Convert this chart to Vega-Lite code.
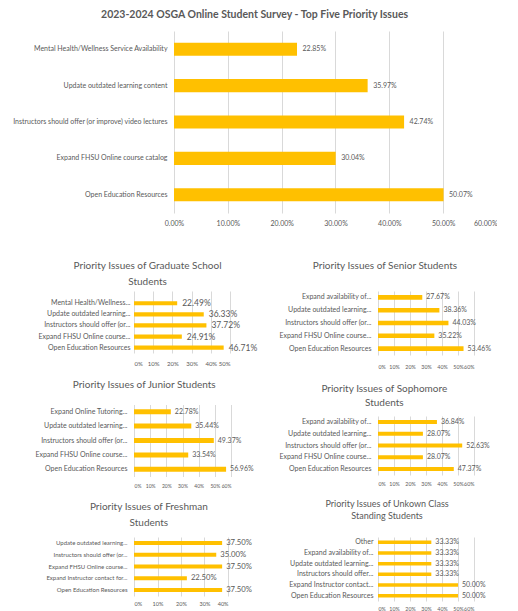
{
  "$schema": "https://vega.github.io/schema/vega-lite/v6.json",
  "padding": {"left": 12, "top": 9, "right": 0, "bottom": 0},
  "spacing": 34,
  "config": {
    "font": "Lato",
    "view": {"stroke": null},
    "axis": {"labelColor": "#595959", "labelFont": "Lato", "gridColor": "#D9D9D9", "domain": false, "ticks": false, "title": null, "labelOverlap": false},
    "axisY": {"grid": false},
    "title": {"color": "#595959", "font": "Lato", "fontWeight": "normal", "anchor": "middle", "frame": "bounds"},
    "bar": {"color": "#FFC000"},
    "text": {"color": "#595959", "font": "Lato"}
  },
  "datasets": {
    "main": [
      {"issue": "Mental Health/Wellness Service Availability", "pct": 0.2285},
      {"issue": "Update outdated learning content", "pct": 0.3597},
      {"issue": "Instructors should offer (or improve) video lectures", "pct": 0.4274},
      {"issue": "Expand FHSU Online course catalog", "pct": 0.3004},
      {"issue": "Open Education Resources", "pct": 0.5007}
    ],
    "grad": [
      {"issue": "Mental Health/Wellness...", "pct": 0.2249},
      {"issue": "Update outdated learning...", "pct": 0.3633},
      {"issue": "Instructors should offer (or...", "pct": 0.3772},
      {"issue": "Expand FHSU Online course...", "pct": 0.2491},
      {"issue": "Open Education Resources", "pct": 0.4671}
    ],
    "senior": [
      {"issue": "Expand availability of...", "pct": 0.2767},
      {"issue": "Update outdated learning...", "pct": 0.3836},
      {"issue": "Instructors should offer (or...", "pct": 0.4403},
      {"issue": "Expand FHSU Online course...", "pct": 0.3522},
      {"issue": "Open Education Resources", "pct": 0.5346}
    ],
    "junior": [
      {"issue": "Expand Online Tutoring...", "pct": 0.2278},
      {"issue": "Update outdated learning...", "pct": 0.3544},
      {"issue": "Instructors should offer (or...", "pct": 0.4937},
      {"issue": "Expand FHSU Online course...", "pct": 0.3354},
      {"issue": "Open Education Resources", "pct": 0.5696}
    ],
    "soph": [
      {"issue": "Expand availability of...", "pct": 0.3684},
      {"issue": "Update outdated learning...", "pct": 0.2807},
      {"issue": "Instructors should offer (or...", "pct": 0.5263},
      {"issue": "Expand FHSU Online course...", "pct": 0.2807},
      {"issue": "Open Education Resources", "pct": 0.4737}
    ],
    "fresh": [
      {"issue": "Update outdated learning...", "pct": 0.375},
      {"issue": "Instructors should offer (or...", "pct": 0.35},
      {"issue": "Expand FHSU Online course...", "pct": 0.375},
      {"issue": "Expand Instructor contact for...", "pct": 0.225},
      {"issue": "Open Education Resources", "pct": 0.375}
    ],
    "unknown": [
      {"issue": "Other", "pct": 0.3333},
      {"issue": "Expand availability of...", "pct": 0.3333},
      {"issue": "Update outdated learning...", "pct": 0.3333},
      {"issue": "Instructors should offer...", "pct": 0.3333},
      {"issue": "Expand Instructor contact...", "pct": 0.5},
      {"issue": "Open Education Resources", "pct": 0.5}
    ]
  },
  "vconcat": [
    {
      "title": {"text": "2023-2024 OSGA Online Student Survey - Top Five Priority Issues", "fontSize": 10.5, "fontWeight": "bold", "offset": 11},
      "data": {"name": "main"},
      "width": 363,
      "height": 182,
      "encoding": {
        "y": {"field": "issue", "type": "nominal", "sort": null, "scale": {"paddingInner": 0.64, "paddingOuter": 0.32}, "axis": {"labelFontSize": 7, "labelPadding": -33}},
        "x": {"field": "pct", "type": "quantitative", "scale": {"domain": [-0.0743, 0.6], "nice": false, "zero": false}, "axis": {"format": ".2%", "values": [0, 0.1, 0.2, 0.3, 0.4, 0.5, 0.6], "labelFontSize": 7, "labelPadding": 6.5}}
      },
      "layer": [
        {"mark": {"type": "bar"}, "encoding": {"x2": {"datum": 0}}},
        {"mark": {"type": "text", "align": "left", "dx": 5.5, "fontSize": 7}, "encoding": {"text": {"field": "pct", "format": ".2%"}}}
      ]
    },
    {
      "spacing": 20,
      "hconcat": [
        {
          "spacing": 13.5,
          "vconcat": [
            {
              "title": {"text": ["Priority Issues of Graduate School", "Students"], "fontSize": 10, "lineHeight": 16, "offset": 4},
              "data": {"name": "grad"},
              "width": 96, "height": 62,
              "encoding": {
                "y": {"field": "issue", "type": "nominal", "sort": null, "scale": {"paddingInner": 0.62, "paddingOuter": 0.6, "align": 0.76}, "axis": {"labelFontSize": 7, "labelPadding": 4}},
                "x": {"field": "pct", "type": "quantitative", "scale": {"domain": [0, 0.5], "nice": false}, "axis": {"format": "%", "values": [0, 0.1, 0.2, 0.3, 0.4, 0.5], "labelFontSize": 6, "labelPadding": 7}}
              },
              "layer": [
                {"mark": {"type": "bar"}},
                {"mark": {"type": "text", "align": "left", "dx": 5, "fontSize": 8.5}, "encoding": {"text": {"field": "pct", "format": ".2%"}}}
              ]
            },
            {
              "title": {"text": "Priority Issues of Junior Students", "fontSize": 10, "offset": 14.5},
              "data": {"name": "junior"},
              "width": 97, "height": 72,
              "encoding": {
                "y": {"field": "issue", "type": "nominal", "sort": null, "scale": {"paddingInner": 0.65, "paddingOuter": 0.325}, "axis": {"labelFontSize": 7, "labelPadding": 7}},
                "x": {"field": "pct", "type": "quantitative", "scale": {"domain": [0, 0.6], "nice": false}, "axis": {"format": "%", "values": [0, 0.1, 0.2, 0.3, 0.4, 0.5, 0.6], "labelFontSize": 5, "labelPadding": 6.5}}
              },
              "layer": [
                {"mark": {"type": "bar"}},
                {"mark": {"type": "text", "align": "left", "dx": 4, "fontSize": 7}, "encoding": {"text": {"field": "pct", "format": ".2%"}}}
              ]
            },
            {
              "title": {"text": ["Priority Issues of Freshman", "Students"], "fontSize": 10, "lineHeight": 16, "offset": 9},
              "data": {"name": "fresh"},
              "width": 94, "height": 59,
              "encoding": {
                "y": {"field": "issue", "type": "nominal", "sort": null, "scale": {"paddingInner": 0.66, "paddingOuter": 0.33}, "axis": {"labelFontSize": 6, "labelPadding": 7}},
                "x": {"field": "pct", "type": "quantitative", "scale": {"domain": [0, 0.4], "nice": false}, "axis": {"format": "%", "values": [0, 0.1, 0.2, 0.3, 0.4], "labelFontSize": 5.5, "labelPadding": 5}}
              },
              "layer": [
                {"mark": {"type": "bar"}},
                {"mark": {"type": "text", "align": "left", "dx": 4, "fontSize": 7.7}, "encoding": {"text": {"field": "pct", "format": ".2%"}}}
              ]
            }
          ]
        },
        {
          "spacing": 13,
          "vconcat": [
            {
              "title": {"text": "Priority Issues of Senior Students", "fontSize": 10, "offset": 20},
              "data": {"name": "senior"},
              "width": 96, "height": 64,
              "encoding": {
                "y": {"field": "issue", "type": "nominal", "sort": null, "scale": {"paddingInner": 0.64, "paddingOuter": 0.32}, "axis": {"labelFontSize": 7, "labelPadding": 7}},
                "x": {"field": "pct", "type": "quantitative", "scale": {"domain": [0, 0.6], "nice": false}, "axis": {"format": "%", "values": [0, 0.1, 0.2, 0.3, 0.4, 0.5, 0.6], "labelFontSize": 5.3, "labelPadding": 9}}
              },
              "layer": [
                {"mark": {"type": "bar"}},
                {"mark": {"type": "text", "align": "left", "dx": 4, "fontSize": 7}, "encoding": {"text": {"field": "pct", "format": ".2%"}}}
              ]
            },
            {
              "title": {"text": ["Priority Issues of Sophomore", "Students"], "fontSize": 10, "lineHeight": 14, "offset": 8.3},
              "data": {"name": "soph"},
              "width": 96, "height": 59,
              "encoding": {
                "y": {"field": "issue", "type": "nominal", "sort": null, "scale": {"paddingInner": 0.66, "paddingOuter": 0.33}, "axis": {"labelFontSize": 7, "labelPadding": 7}},
                "x": {"field": "pct", "type": "quantitative", "scale": {"domain": [0, 0.6], "nice": false}, "axis": {"format": "%", "values": [0, 0.1, 0.2, 0.3, 0.4, 0.5, 0.6], "labelFontSize": 5.3, "labelPadding": 6.5}}
              },
              "layer": [
                {"mark": {"type": "bar"}},
                {"mark": {"type": "text", "align": "left", "dx": 4, "fontSize": 7}, "encoding": {"text": {"field": "pct", "format": ".2%"}}}
              ]
            },
            {
              "title": {"text": ["Priority Issues of Unkown Class", "Standing Students"], "fontSize": 9, "lineHeight": 12, "offset": 16},
              "data": {"name": "unknown"},
              "width": 96, "height": 64,
              "encoding": {
                "y": {"field": "issue", "type": "nominal", "sort": null, "scale": {"paddingInner": 0.67, "paddingOuter": 0.335}, "axis": {"labelFontSize": 7, "labelPadding": 5}},
                "x": {"field": "pct", "type": "quantitative", "scale": {"domain": [0, 0.6], "nice": false}, "axis": {"format": "%", "values": [0, 0.1, 0.2, 0.3, 0.4, 0.5, 0.6], "labelFontSize": 5.3, "labelPadding": 5.5}}
              },
              "layer": [
                {"mark": {"type": "bar"}},
                {"mark": {"type": "text", "align": "left", "dx": 4, "fontSize": 7}, "encoding": {"text": {"field": "pct", "format": ".2%"}}}
              ]
            }
          ]
        }
      ]
    }
  ]
}
